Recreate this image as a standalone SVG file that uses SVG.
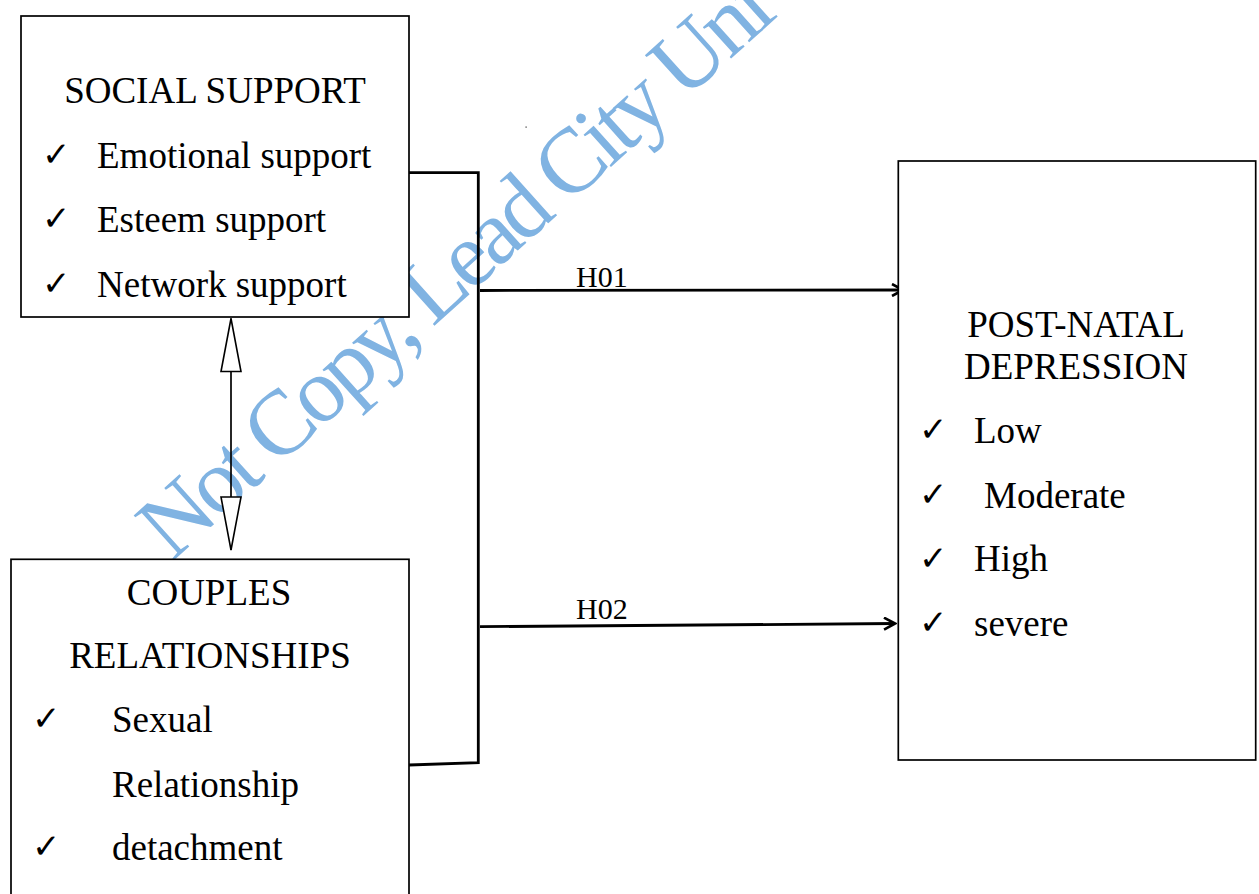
<svg xmlns="http://www.w3.org/2000/svg" width="1259" height="894" viewBox="0 0 1259 894">
  <defs>
    <style>
      .box{fill:#ffffff;stroke:#000000;stroke-width:1.7}
      .t{font-family:"Liberation Serif","Times New Roman",serif;font-size:37px;fill:#000000}
      .ttl{text-anchor:middle}
      .ck{font-family:"DejaVu Sans",sans-serif;font-size:34px;font-weight:bold;fill:#000000}
      .lbl{font-family:"Liberation Serif","Times New Roman",serif;font-size:30px;fill:#000000}
      .conn{stroke:#000000;stroke-width:2.8;fill:none}
      .thin{stroke:#000000;stroke-width:1.7;fill:none}
      .wm{font-family:"Liberation Serif","Times New Roman",serif;font-size:92px;letter-spacing:-5px;fill:#80b3e2}
    </style>
    <marker id="open" viewBox="0 0 14 14" refX="12" refY="7" markerWidth="14" markerHeight="14" markerUnits="userSpaceOnUse" orient="auto">
      <path d="M1,1 L12,7 L1,13" fill="none" stroke="#000000" stroke-width="2.6"/>
    </marker>
    <marker id="tri" viewBox="0 0 56 24" refX="54" refY="12" markerWidth="56" markerHeight="24" markerUnits="userSpaceOnUse" orient="auto-start-reverse">
      <path d="M1,2 L54,12 L1,22 Z" fill="#ffffff" stroke="#000000" stroke-width="1.6"/>
    </marker>
  </defs>

  <g id="watermark">
    <text class="wm" x="172" y="562" transform="rotate(-42 172 562)">Not Copy, Lead City Uni</text>
    <rect x="525.5" y="126.5" width="1.2" height="1.2" fill="#333333"/>
  </g>

  <g id="connectors">
    <path class="conn" d="M409,172.7 L478.3,172.7 L478.3,762.7 L409,765"/>
    <line class="conn" x1="480" y1="290.5" x2="903" y2="290" marker-end="url(#open)"/>
    <line class="conn" x1="480" y1="626.7" x2="895" y2="623.5" marker-end="url(#open)"/>
    <line class="thin" x1="231" y1="318.5" x2="231" y2="550" marker-start="url(#tri)" marker-end="url(#tri)"/>
    <text class="lbl" x="576" y="287.3">H01</text>
    <text class="lbl" x="576" y="619.3">H02</text>
  </g>

  <g id="social-support">
    <rect class="box" x="21" y="16" width="388" height="301"/>
    <text class="t ttl" x="215" y="103">SOCIAL SUPPORT</text>
    <text class="ck" x="42" y="166">✓</text>
    <text class="t" x="97" y="168.3">Emotional support</text>
    <text class="ck" x="42" y="230">✓</text>
    <text class="t" x="97" y="231.7">Esteem support</text>
    <text class="ck" x="42" y="295">✓</text>
    <text class="t" x="97" y="296.7">Network support</text>
  </g>

  <g id="couples-relationships">
    <rect class="box" x="11" y="559.3" width="398" height="345"/>
    <text class="t ttl" x="209" y="605">COUPLES</text>
    <text class="t ttl" x="210" y="668.3">RELATIONSHIPS</text>
    <text class="ck" x="32" y="730">✓</text>
    <text class="t" x="112" y="731.7">Sexual</text>
    <text class="t" x="112" y="796.7">Relationship</text>
    <text class="ck" x="32" y="858">✓</text>
    <text class="t" x="112" y="860">detachment</text>
  </g>

  <g id="post-natal-depression">
    <rect class="box" x="898.3" y="161" width="357.4" height="599"/>
    <text class="t ttl" x="1076" y="336.5">POST-NATAL</text>
    <text class="t ttl" x="1076" y="379">DEPRESSION</text>
    <text class="ck" x="919" y="441">✓</text>
    <text class="t" x="974" y="442.6">Low</text>
    <text class="ck" x="919" y="506">✓</text>
    <text class="t" x="984" y="507.8">Moderate</text>
    <text class="ck" x="919" y="570">✓</text>
    <text class="t" x="974" y="571">High</text>
    <text class="ck" x="919" y="634">✓</text>
    <text class="t" x="974" y="635.6">severe</text>
  </g>
</svg>
